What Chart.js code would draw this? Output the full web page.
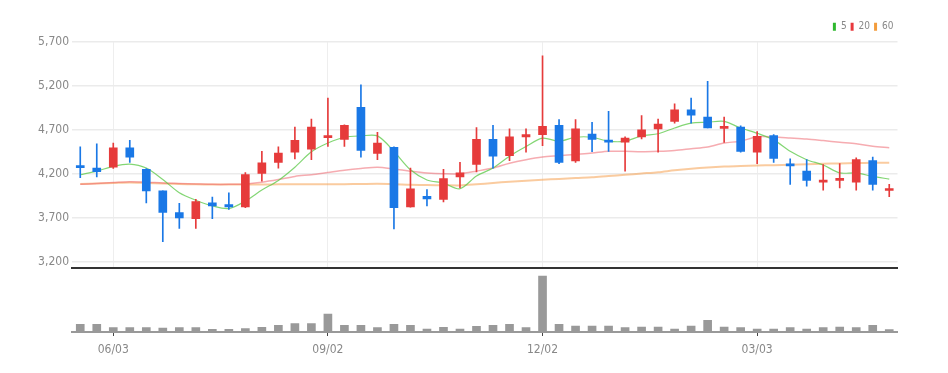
<!DOCTYPE html>
<html>
<head>
<meta charset="utf-8">
<script src="https://cdn.jsdelivr.net/npm/chart.js@4.4.1/dist/chart.umd.min.js"></script>
<style>
  html, body { margin: 0; padding: 0; background: #fff; }
  #wrap { position: relative; width: 948px; height: 373px; overflow: hidden; }
  #priceBox { position: absolute; left: 0; top: 0; width: 948px; height: 270px; }
  #volBox { position: absolute; left: 0; top: 268px; width: 948px; height: 105px; }
</style>
</head>
<body>
<div id="wrap">
  <div id="priceBox"><canvas id="priceChart"></canvas></div>
  <div id="volBox"><canvas id="volChart"></canvas></div>
</div>
<script>
// weekly candles, 2024-05-20 .. 2025-04-28
const dates = [
  '05/20','05/27','06/03','06/10','06/17','06/24','07/01','07/08','07/15','07/22',
  '07/29','08/05','08/12','08/19','08/26','09/02','09/09','09/16','09/23','09/30',
  '10/07','10/14','10/21','10/28','11/04','11/11','11/18','11/25','12/02','12/09',
  '12/16','12/23','12/30','01/06','01/13','01/20','01/27','02/03','02/10','02/17',
  '02/24','03/03','03/10','03/17','03/24','03/31','04/07','04/14','04/21','04/28'
];
const dateTicks = ['06/03', '09/02', '12/02', '03/03'];

const opens = [
  4285,4265,4275,4495,4250,4005,3760,3690,3870,3850,
  3825,4205,4330,4445,4480,4610,4590,4955,4430,4500,
  3825,3945,3910,4165,4305,4590,4405,4620,4645,4750,
  4345,4650,4580,4560,4620,4710,4795,4925,4845,4715,
  4730,4445,4635,4305,4230,4105,4125,4105,4350,4010
];
const highs = [
  4505,4540,4550,4580,4260,4005,3865,3910,3935,3985,
  4215,4455,4505,4730,4820,5060,4755,5210,4670,4505,
  4265,4020,4250,4330,4725,4750,4710,4710,5540,4815,
  4815,4785,4910,4620,4860,4820,4995,5060,5250,4845,
  4745,4680,4645,4370,4360,4305,4315,4380,4390,4080
];
const lows = [
  4155,4165,4260,4330,3870,3430,3580,3580,3690,3795,
  3815,4115,4265,4370,4360,4510,4510,4390,4360,3575,
  3820,3835,3880,4040,4220,4265,4350,4445,4520,4315,
  4330,4450,4455,4230,4595,4445,4775,4775,4720,4555,
  4445,4315,4330,4080,4060,4015,4040,4015,4015,3940
];
const closes = [
  4270,4225,4495,4390,4005,3760,3700,3885,3835,3825,
  4190,4325,4435,4580,4730,4630,4750,4465,4550,3815,
  4030,3915,4145,4210,4590,4400,4620,4645,4740,4330,
  4710,4590,4560,4605,4700,4765,4925,4865,4720,4730,
  4455,4625,4375,4290,4125,4115,4135,4360,4080,4020
];

// moving averages as drawn
const ma5 = [
  4190,4230,4285,4310,4265,4135,3985,3900,3835,3805,
  3890,4015,4125,4275,4450,4550,4615,4630,4630,4455,
  4245,4130,4095,4030,4175,4265,4400,4510,4605,4570,
  4615,4615,4570,4570,4630,4655,4720,4775,4785,4795,
  4720,4660,4585,4455,4360,4300,4210,4210,4170,4140
];
const ma20 = [
  4080,4090,4100,4110,4105,4095,4090,4085,4080,4080,
  4085,4105,4135,4170,4190,4215,4240,4260,4275,4255,
  4230,4210,4200,4200,4230,4265,4320,4360,4390,4405,
  4420,4435,4455,4455,4450,4455,4465,4485,4505,4550,
  4570,4620,4618,4607,4595,4577,4558,4540,4512,4495
];
const ma60 = [
  4085,4090,4095,4100,4095,4090,4085,4080,4078,4078,
  4078,4078,4080,4080,4080,4082,4082,4084,4086,4082,
  4075,4072,4070,4068,4080,4095,4110,4122,4132,4142,
  4152,4160,4175,4188,4203,4218,4240,4258,4272,4282,
  4288,4294,4298,4302,4307,4313,4318,4322,4324,4325
];

// volume, thousand shares
const volumes = [
  460,460,260,260,260,240,260,260,160,160,
  200,280,400,500,500,1080,400,400,260,460,
  400,180,280,180,340,400,460,260,3360,460,
  360,360,360,260,300,300,180,360,700,300,
  260,180,180,260,180,260,300,260,400,140
];

const priceTicks = [3200, 3700, 4200, 4700, 5200, 5700];

const UP = '#e63b3b';
const DOWN = '#1a78e6';
const candleColors = opens.map((o, i) => closes[i] >= o ? UP : DOWN);
const font = { family: "'Liberation Sans Narrow', 'DejaVu Sans Condensed', 'Liberation Sans', sans-serif", size: 12 };

function keepDateTicks(scale) {
  scale.ticks = scale.ticks.filter(t => dateTicks.includes(dates[t.value]));
}

new Chart(document.getElementById('priceChart'), {
  type: 'bar',
  data: {
    labels: dates,
    datasets: [
      {
        label: 'wick',
        data: lows.map((l, i) => [l, highs[i]]),
        backgroundColor: candleColors,
        barThickness: 1,
        grouped: false,
        order: 0
      },
      {
        label: 'body',
        data: opens.map((o, i) => [o, closes[i]]),
        backgroundColor: candleColors,
        barThickness: 8,
        minBarLength: 2,
        grouped: false,
        order: 0
      },
      {
        type: 'line', label: '5', data: ma5,
        borderColor: 'rgba(90, 200, 70, 0.75)', backgroundColor: '#2eb82e',
        borderWidth: 1.2, pointRadius: 0, tension: 0.3, order: 1
      },
      {
        type: 'line', label: '20', data: ma20,
        borderColor: 'rgba(238, 90, 100, 0.5)', backgroundColor: '#e8383d',
        borderWidth: 1.5, pointRadius: 0, tension: 0.3, order: 2
      },
      {
        type: 'line', label: '60', data: ma60,
        borderColor: 'rgba(245, 160, 80, 0.55)', backgroundColor: '#f39c3c',
        borderWidth: 2, pointRadius: 0, tension: 0.3, order: 3
      }
    ]
  },
  options: {
    responsive: true,
    maintainAspectRatio: false,
    animation: false,
    layout: { padding: { left: 0, right: 50.5, top: 17.7, bottom: 2 } },
    plugins: {
      tooltip: { enabled: false },
      legend: {
        position: 'top',
        align: 'end',
        labels: {
          boxWidth: 3,
          boxHeight: 8,
          padding: 4,
          color: '#888',
          font: { family: font.family, size: 10 },
          generateLabels: chart => Chart.defaults.plugins.legend.labels.generateLabels(chart)
            .filter(it => it.datasetIndex >= 2)
            .map(it => Object.assign(it, { strokeStyle: it.fillStyle, lineWidth: 0 }))
        }
      }
    },
    scales: {
      x: {
        offset: true,
        grid: { offset: false, color: '#eeeeee', drawTicks: false },
        border: { color: '#333', width: 2 },
        ticks: { display: false, autoSkip: false },
        afterBuildTicks: keepDateTicks,
        afterFit: s => { s.height = 0; }
      },
      y: {
        min: 3130,
        max: 5700,
        grid: { color: '#ebebeb', lineWidth: 1.5, drawTicks: false },
        border: { display: false },
        ticks: { color: '#888', padding: 3, font: font, callback: v => v.toLocaleString('en-US') },
        afterBuildTicks: s => { s.ticks = priceTicks.map(v => ({ value: v })); },
        afterFit: s => { s.width = 72; s.paddingTop = 0; s.paddingBottom = 0; }
      }
    }
  }
});

new Chart(document.getElementById('volChart'), {
  type: 'bar',
  data: {
    labels: dates,
    datasets: [{ label: 'volume', data: volumes, backgroundColor: '#999', barThickness: 8 }]
  },
  options: {
    responsive: true,
    maintainAspectRatio: false,
    animation: false,
    layout: { padding: { left: 72, right: 50.5, top: 4, bottom: 0 } },
    plugins: { legend: { display: false }, tooltip: { enabled: false } },
    scales: {
      x: {
        offset: true,
        grid: { offset: false, drawOnChartArea: false, tickLength: 4, color: '#444' },
        border: { color: '#999', width: 2 },
        ticks: { color: '#888', padding: 7, font: font, maxRotation: 0, autoSkip: false },
        afterBuildTicks: keepDateTicks,
        afterFit: s => { s.height = 41; }
      },
      y: { display: false, min: 0, max: 3600 }
    }
  }
});
</script>
</body>
</html>
